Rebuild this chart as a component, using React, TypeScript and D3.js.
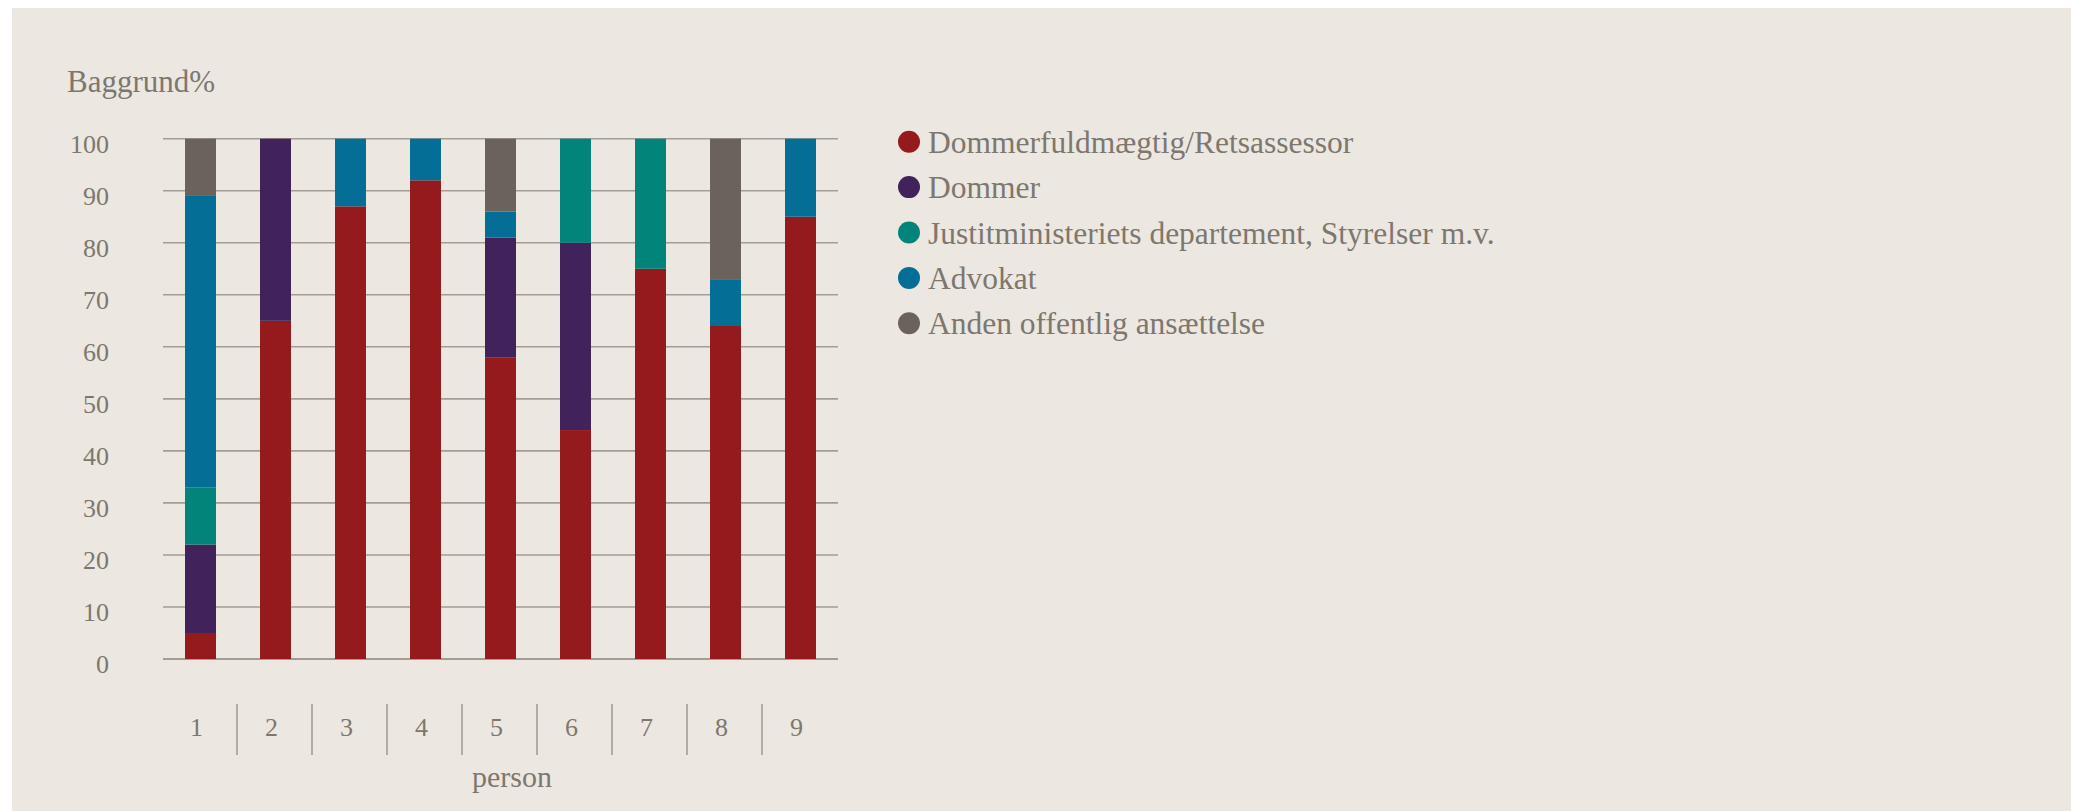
import React, { useRef, useEffect } from "react";
import * as d3 from "d3";

const width = 2076;
const height = 811;

const persons = ["1", "2", "3", "4", "5", "6", "7", "8", "9"];
const seriesNames = [
  "Dommerfuldmægtig/Retsassessor",
  "Dommer",
  "Justitministeriets departement, Styrelser m.v.",
  "Advokat",
  "Anden offentlig ansættelse",
];
const colors = ["#941a1d", "#41225b", "#03847a", "#056e96", "#6b625b"];

const dommerfuldmaegtig = [5, 65, 87, 92, 58, 44, 75, 64, 85];
const dommer = [17, 35, 0, 0, 23, 36, 0, 0, 0];
const justitministeriet = [11, 0, 0, 0, 0, 20, 25, 0, 0];
const advokat = [56, 0, 13, 8, 5, 0, 0, 9, 15];
const andenOffentlig = [11, 0, 0, 0, 14, 0, 0, 27, 0];

const yTicks = [0, 10, 20, 30, 40, 50, 60, 70, 80, 90, 100];

const font = "'Liberation Serif', 'Times New Roman', serif";
const textColor = "#7d776f";

const App = () => {
  const ref = useRef<SVGSVGElement>(null);

  useEffect(() => {
    const svg = d3.select(ref.current);
    svg.selectAll("*").remove();

    const rows = persons.map((p, i) => ({
      person: p,
      [seriesNames[0]]: dommerfuldmaegtig[i],
      [seriesNames[1]]: dommer[i],
      [seriesNames[2]]: justitministeriet[i],
      [seriesNames[3]]: advokat[i],
      [seriesNames[4]]: andenOffentlig[i],
    }));

    const stacked = d3.stack<any>().keys(seriesNames)(rows);

    const x = d3.scaleBand()
      .domain(persons)
      .range([163, 838])
      .paddingInner(0.587)
      .paddingOuter(0.2935);

    const y = d3.scaleLinear().domain([0, 100]).range([659, 138.7]);

    const color = d3.scaleOrdinal<string, string>().domain(seriesNames).range(colors);

    // background panel
    svg.append("rect")
      .attr("x", 12).attr("y", 8)
      .attr("width", 2071 - 12).attr("height", height)
      .attr("fill", "#ece7e1");

    // title
    svg.append("text")
      .attr("x", 67).attr("y", 92)
      .attr("font-family", font).attr("font-size", 31)
      .attr("fill", textColor)
      .text("Baggrund%");

    // grid lines
    svg.append("g")
      .selectAll("line")
      .data(yTicks)
      .join("line")
      .attr("x1", 163).attr("x2", 838)
      .attr("y1", d => y(d)).attr("y2", d => y(d))
      .attr("stroke", d => d === 0 ? "#8c857c" : "#a39d95")
      .attr("stroke-width", 1.6);

    // y tick labels
    svg.append("g")
      .selectAll("text")
      .data(yTicks)
      .join("text")
      .attr("x", 109)
      .attr("y", d => y(d) + 14)
      .attr("text-anchor", "end")
      .attr("font-family", font).attr("font-size", 26)
      .attr("fill", textColor)
      .text(d => d);

    // bars
    svg.append("g")
      .selectAll("g")
      .data(stacked)
      .join("g")
      .attr("fill", d => color(d.key))
      .selectAll("rect")
      .data(d => d)
      .join("rect")
      .attr("x", d => x(d.data.person)!)
      .attr("y", d => y(d[1]))
      .attr("width", x.bandwidth())
      .attr("height", d => y(d[0]) - y(d[1]));

    // x axis labels and separators
    svg.append("g")
      .selectAll("text")
      .data(persons)
      .join("text")
      .attr("x", d => x(d)! + x.bandwidth() / 2 - 4)
      .attr("y", 736)
      .attr("text-anchor", "middle")
      .attr("font-family", font).attr("font-size", 26)
      .attr("fill", textColor)
      .text(d => d);

    svg.append("g")
      .selectAll("line")
      .data(persons.slice(1))
      .join("line")
      .attr("x1", d => x(d)! - (x.step() - x.bandwidth()) / 2 - 1)
      .attr("x2", d => x(d)! - (x.step() - x.bandwidth()) / 2 - 1)
      .attr("y1", 704).attr("y2", 755)
      .attr("stroke", "#8c857c")
      .attr("stroke-width", 1.2);

    svg.append("text")
      .attr("x", 512).attr("y", 787)
      .attr("text-anchor", "middle")
      .attr("font-family", font).attr("font-size", 30)
      .attr("fill", textColor)
      .text("person");

    // legend
    const legend = svg.append("g")
      .selectAll("g")
      .data(seriesNames)
      .join("g")
      .attr("transform", (d, i) => `translate(909, ${141.7 + i * 45.4})`);

    legend.append("circle")
      .attr("r", 11)
      .attr("fill", d => color(d));

    legend.append("text")
      .attr("x", 19).attr("y", 11)
      .attr("font-family", font).attr("font-size", 31.5)
      .attr("fill", textColor)
      .text(d => d);
  }, []);

  return (
    <svg
      ref={ref}
      width={width}
      height={height}
      style={{ position: "absolute", left: 0, top: 0, background: "#ffffff" }}
    />
  );
};

export default App;
